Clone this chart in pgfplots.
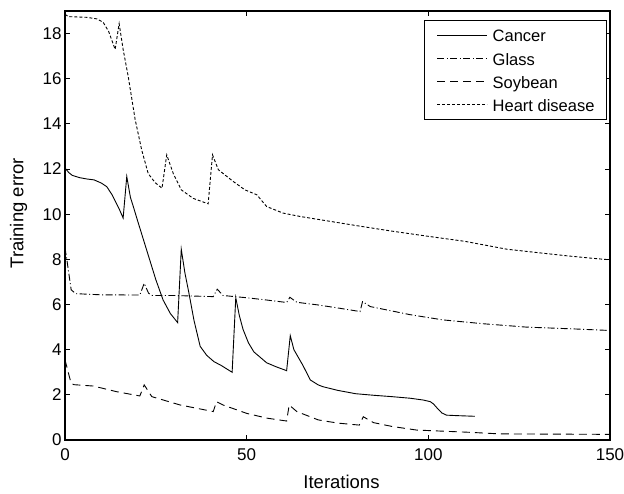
\documentclass[border=0pt]{standalone}
\usepackage{pgfplots}
\pgfplotsset{compat=1.18}
\usepackage{fontspec}
\setmainfont{Liberation Sans}

% training error curves per data set
\pgfplotstableread{
x y
0 12.05
1 11.85
2 11.72
4 11.62
6 11.56
8 11.52
10 11.38
11.5 11.22
13 10.85
15 10.2
16 9.83
17 11.67
18 10.75
18.8 10.34
20 9.7
22.5 8.4
25 7.1
27 6.2
29 5.6
31 5.2
32 8.45
33 7.4
34 6.6
35.5 5.3
37.2 4.15
39 3.75
41 3.47
43 3.3
46 3.0
47 6.3
48 5.5
49 4.9
50.5 4.3
52 3.9
55.5 3.42
58 3.25
61 3.07
62 4.62
63 4.0
65.5 3.3
67.5 2.66
69.7 2.44
71 2.36
75 2.2
80 2.05
85 1.98
90 1.92
95 1.85
98.6 1.77
100.5 1.7
101.4 1.6
102.5 1.4
103.7 1.2
105 1.1
107.8 1.08
112.8 1.05
}\cancer

\pgfplotstableread{
x y
0 8.5
0.5 8.0
1.7 6.65
3 6.48
10 6.43
20.6 6.42
21.8 6.94
23 6.5
24 6.4
30 6.4
40.8 6.35
41.9 6.68
43.5 6.4
50 6.3
55.5 6.2
61 6.09
61.9 6.32
63.8 6.1
69.7 5.98
75 5.85
81.2 5.69
81.9 6.13
84 5.91
95 5.55
104 5.32
115 5.15
127 5.0
140 4.92
150 4.85
}\glass

\pgfplotstableread{
x y
0 3.55
1.7 2.5
2.5 2.45
7.8 2.39
14.2 2.14
20.6 1.95
21.8 2.44
23.9 1.92
31.7 1.55
40.8 1.26
41.7 1.7
43.5 1.55
50 1.18
55.5 0.97
61 0.84
61.7 1.55
63.8 1.26
69.7 0.89
75 0.75
81 0.66
82.1 1.03
84.9 0.77
90 0.6
96.8 0.44
111.5 0.34
119.7 0.27
150 0.25
}\soybean

\pgfplotstableread{
x y
0 18.85
1 18.75
6 18.72
8.8 18.65
10.5 18.5
12 18.1
13.8 17.3
14.9 18.44
16 17.3
17.4 16.1
19.3 14.2
21.1 12.85
22.9 11.8
24.8 11.4
26.7 11.15
28 12.63
29.8 11.8
32 11.08
35.3 10.7
39.4 10.46
40.6 12.63
42.2 11.97
46.3 11.45
49.5 11.08
52.8 10.86
55.5 10.34
60 10.05
64.7 9.9
69.3 9.78
80 9.5
90 9.25
100 9.02
110 8.8
121.6 8.45
130 8.3
138 8.16
145 8.05
150 7.98
}\heart

\begin{document}
\begin{tikzpicture}
\useasboundingbox (-65bp,-54bp) rectangle (559bp,440bp);
\begin{axis}[
  at={(0,0)}, anchor=south west,
  scale only axis, width=545bp, height=429bp,
  xmin=0, xmax=150, ymin=0, ymax=19,
  xtick={0,50,100,150}, ytick={0,2,...,18},
  tick align=inside, major tick length=5bp,
  axis line style={line width=1.4bp},
  every tick/.style={black, line width=0.9bp},
  /pgf/number format/assume math mode=true,
  tick label style={font=\fontsize{17bp}{20bp}\selectfont},
  xticklabel style={anchor=base, yshift=-20.7bp},
  yticklabel style={anchor=east},
  label style={font=\fontsize{18.5bp}{22bp}\selectfont},
  xlabel={Iterations}, ylabel={Training error},
  xlabel style={at={(axis description cs:0.5073,-0.1126)}, anchor=base},
  ylabel style={at={(axis description cs:-0.0765,0.5284)}, anchor=base},
  legend cell align=left,
  legend image code/.code={\draw[#1] (0bp,0bp) -- (50bp,0bp);},
  legend style={at={(axis description cs:1,1)}, anchor=north east,
    xshift=-3bp, yshift=-9bp, draw=black, line width=1bp,
    font=\fontsize{16.5bp}{19bp}\selectfont,
    nodes={inner sep=0pt, text height=14bp, text depth=0bp},
    inner xsep=12bp, inner ysep=7.5bp, row sep=9.3bp,
    /tikz/every odd column/.style={column sep=5bp}},
]
\addplot[black, line width=0.9bp] table {\cancer};
\addlegendentry{Cancer}
\addplot[black, line width=0.9bp, dash pattern=on 7bp off 2.5bp on 1bp off 2.5bp] table {\glass};
\addlegendentry{Glass}
\addplot[black, line width=0.9bp, dash pattern=on 8bp off 5bp] table {\soybean};
\addlegendentry{Soybean}
\addplot[black, line width=0.9bp, dash pattern=on 3bp off 2bp] table {\heart};
\addlegendentry{Heart disease}
\end{axis}
\end{tikzpicture}
\end{document}
